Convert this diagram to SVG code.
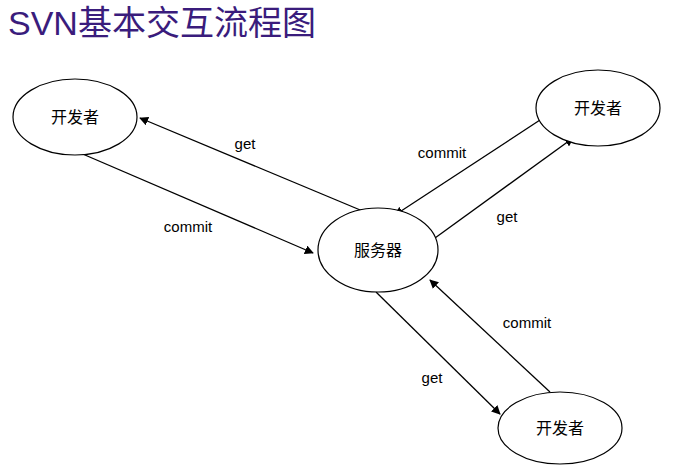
<svg xmlns="http://www.w3.org/2000/svg" width="679" height="470" viewBox="0 0 679 470">
<style>
.n{fill:#fff;stroke:#000;stroke-width:1.2}
.t{font-family:"Noto Sans CJK SC","Liberation Sans",sans-serif;font-size:16px;fill:#000;text-anchor:middle}
.l{font-family:"Liberation Sans",sans-serif;font-size:15px;fill:#000;text-anchor:middle}
.c line{stroke:#000;stroke-width:1.3;marker-end:url(#a)}
</style>
<defs><marker id="a" viewBox="0 0 10 10" refX="9" refY="5" markerWidth="9" markerHeight="9" orient="auto" markerUnits="userSpaceOnUse"><path d="M0,0L10,5L0,10z" fill="#000"/></marker></defs>
<rect width="679" height="470" fill="#fff"/>
<text x="8" y="35" font-family="Liberation Sans,Noto Sans CJK SC,sans-serif" font-size="34" fill="#3a1c7c">SVN基本交互流程图</text>
<g class="c">
<line x1="365" y1="212" x2="140" y2="118"/>
<line x1="78" y1="152" x2="313" y2="253"/>
<line x1="540" y1="120" x2="395" y2="215"/>
<line x1="435" y1="238" x2="573" y2="138"/>
<line x1="376" y1="292" x2="500" y2="414"/>
<line x1="550" y1="392" x2="430" y2="280"/>
</g>
<g class="l">
<text x="245" y="149">get</text>
<text x="188" y="232">commit</text>
<text x="442" y="158">commit</text>
<text x="507" y="222">get</text>
<text x="432" y="383">get</text>
<text x="527" y="328">commit</text>
</g>
<g id="dev1"><ellipse class="n" cx="75" cy="117" rx="62" ry="38"/><text class="t" x="75" y="123">开发者</text></g>
<g id="dev2"><ellipse class="n" cx="598" cy="108" rx="62" ry="38"/><text class="t" x="598" y="114">开发者</text></g>
<g id="server"><ellipse class="n" cx="378" cy="250" rx="60" ry="42"/><text class="t" x="378" y="256">服务器</text></g>
<g id="dev3"><ellipse class="n" cx="560" cy="428" rx="62" ry="36"/><text class="t" x="560" y="434">开发者</text></g>
</svg>
